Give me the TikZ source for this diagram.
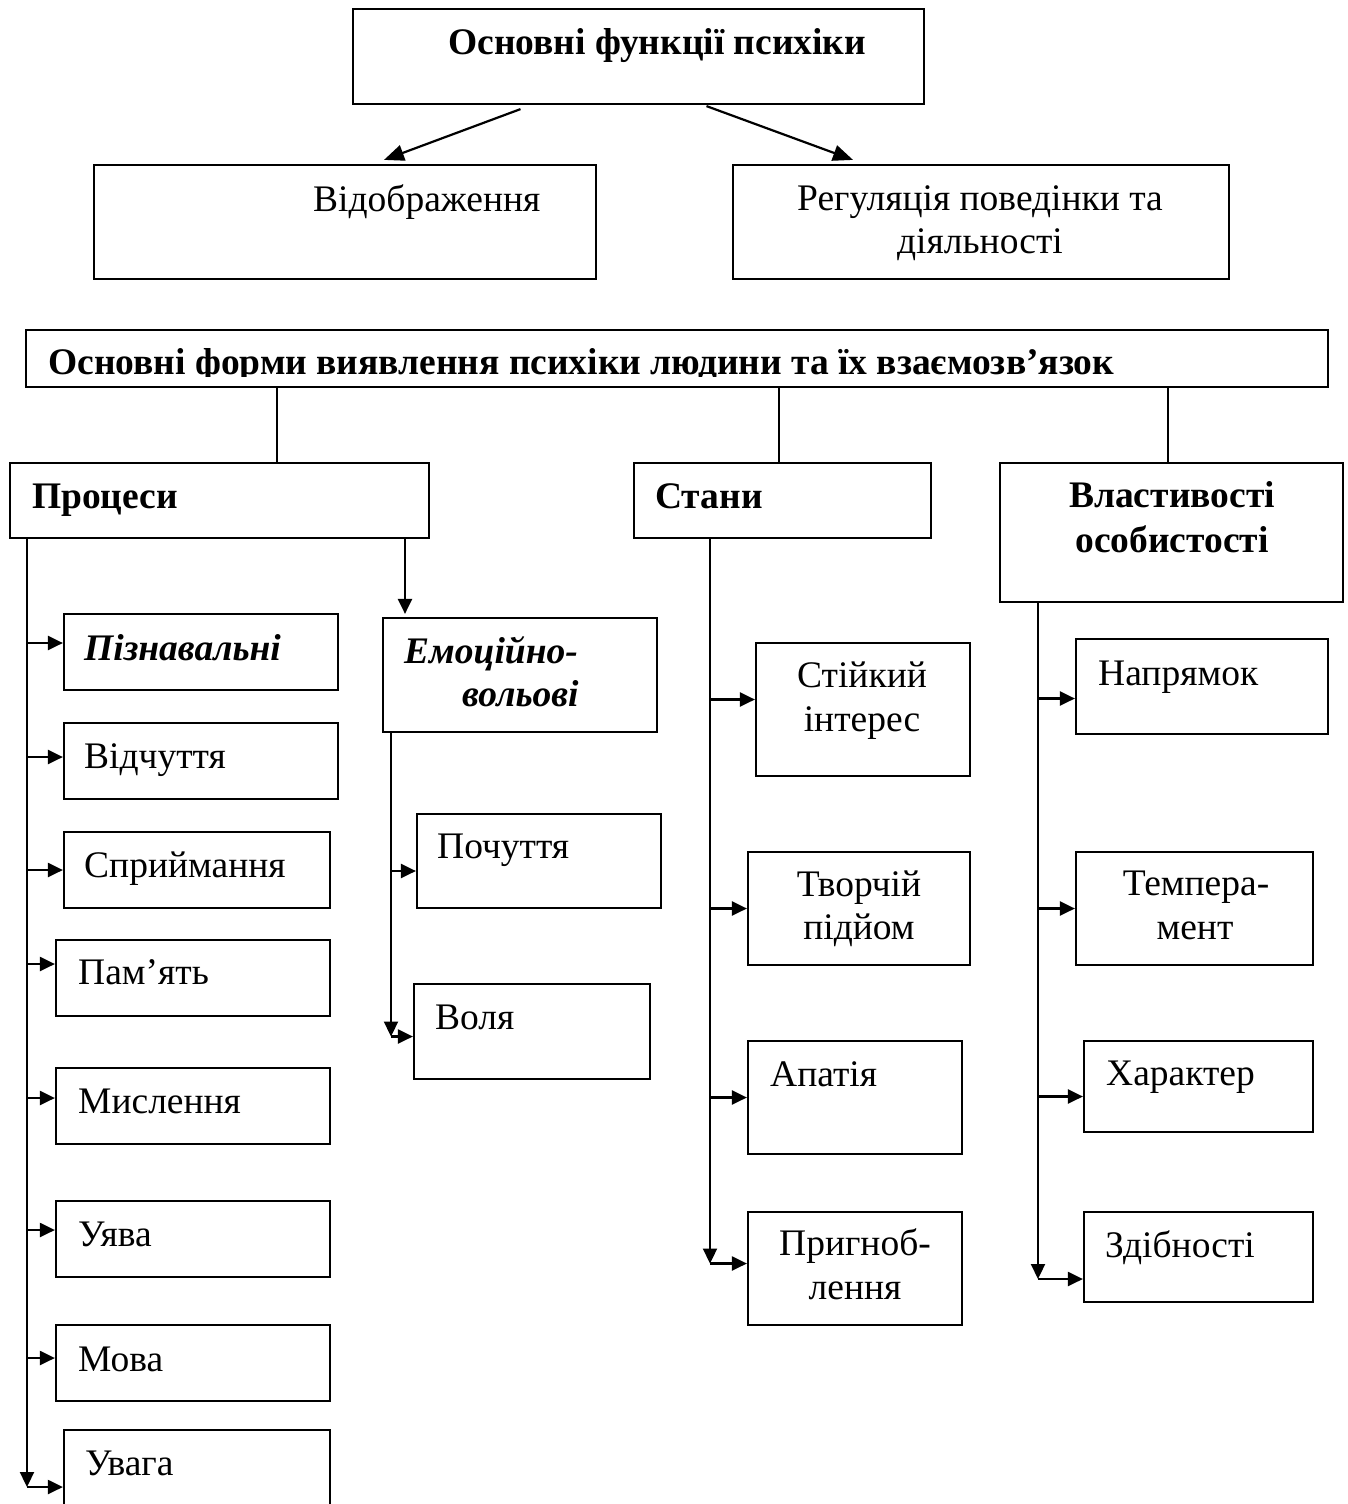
\documentclass[tikz,border=0pt]{standalone}
\usepackage{fontspec}
\setmainfont{Liberation Serif}
\usetikzlibrary{arrows.meta,fit}
\begin{document}
\begin{tikzpicture}[x=1pt,y=-1pt,
  box/.style={draw,line width=2.2pt,inner sep=0pt},
  tr/.style={inner sep=0pt,anchor=base west,font=\fontsize{37.5}{43}\selectfont},
  trc/.style={tr,anchor=base},
  tb/.style={inner sep=0pt,anchor=base west,font=\fontsize{37.5}{43}\selectfont\bfseries},
  tbc/.style={tb,anchor=base},
  tbi/.style={inner sep=0pt,anchor=base west,font=\fontsize{37.5}{43}\selectfont\bfseries\itshape},
  conn/.style={line width=2.2pt},
  arr/.style={conn,-{Triangle[length=15pt,width=14pt]}},
  bigarr/.style={conn,-{Triangle[length=20pt,width=16pt]}},
]
\clip (0,0) rectangle (1348,1504);
\fill[white] (0,0) rectangle (1348,1504);

% ---- top part
\node[box,fit={(353,9) (924,104)}] (top) {};
\node[tb] (t-top) at (448,55) {Основні функції психіки};
\node[box,fit={(94,165) (596,279)}] (disp) {};
\node[tr] (t-disp) at (313,211) {Відображення};
\node[box,fit={(733,165) (1229,279)}] (reg) {};
\node[trc] (t-reg1) at (980,210) {Регуляція поведінки та};
\node[trc] (t-reg2) at (980,253) {діяльності};
\draw[bigarr] ([shift={(-118,4)}]top.south) -- ([shift={(39,-4)}]disp.north);
\draw[bigarr] ([shift={(68,1)}]top.south) -- ([shift={(-128,-4)}]reg.north);

% ---- forms
\node[box,fit={(26,330) (1328,387)}] (forms) {};
\begin{scope}
\clip (26,330) rectangle (1328,376);
\node[tb] (t-forms) at (48,374) {Основні форми виявлення психіки людини та їх взаємозв’язок};
\end{scope}

\node[box,fit={(10,463) (429,538)}] (proc) {};
\node[tb] (t-proc) at (32,508) {Процеси};
\node[box,fit={(634,463) (931,538)}] (stan) {};
\node[tb] (t-stan) at (655,508) {Стани};
\node[box,fit={(1000,463) (1343,602)}] (vlas) {};
\node[tbc] (t-vlas1) at (1172,507) {Властивості};
\node[tbc] (t-vlas2) at (1172,552) {особистості};

\coordinate (c1) at (277,0);
\coordinate (c2) at (779,0);
\coordinate (c3) at (1168,0);
\draw[conn] (forms.south -| c1) -- (proc.north -| c1);
\draw[conn] (forms.south -| c2) -- (stan.north -| c2);
\draw[conn] (forms.south -| c3) -- (vlas.north -| c3);

% ---- processes column
\node[box,fit={(64,614) (338,690)}] (pizn) {};
\node[tbi] (t-pizn) at (84,660) {Пізнавальні};
\node[box,fit={(64,723) (338,799)}] (vidch) {};
\node[tr] (t-vidch) at (84,768) {Відчуття};
\node[box,fit={(64,832) (330,908)}] (spr) {};
\node[tr] (t-spr) at (84,877) {Сприймання};
\node[box,fit={(56,940) (330,1016)}] (pam) {};
\node[tr] (t-pam) at (78,984) {Пам’ять};
\node[box,fit={(56,1068) (330,1144)}] (mysl) {};
\node[tr] (t-mysl) at (78,1113) {Мислення};
\node[box,fit={(56,1201) (330,1277)}] (uyava) {};
\node[tr] (t-uyava) at (78,1246) {Уява};
\node[box,fit={(56,1325) (330,1401)}] (mova) {};
\node[tr] (t-mova) at (78,1371) {Мова};
\node[box,fit={(64,1430) (330,1544)}] (uvaga) {};
\node[tr] (t-uvaga) at (85,1475) {Увага};

\coordinate (sp1) at (27,0);
\draw[arr] (proc.south -| sp1) -- (uvaga.west -| sp1);
\draw[arr] ([yshift=9pt]pizn.west -| sp1) -- ([yshift=9pt]pizn.west);
\draw[arr] ([yshift=4pt]vidch.west -| sp1) -- ([yshift=4pt]vidch.west);
\draw[arr] (spr.west -| sp1) -- (spr.west);
\draw[arr] ([yshift=14pt]pam.west -| sp1) -- ([yshift=14pt]pam.west);
\draw[arr] ([yshift=8pt]mysl.west -| sp1) -- ([yshift=8pt]mysl.west);
\draw[arr] ([yshift=9pt]uyava.west -| sp1) -- ([yshift=9pt]uyava.west);
\draw[arr] ([yshift=5pt]mova.west -| sp1) -- ([yshift=5pt]mova.west);
\draw[arr] (uvaga.west -| sp1) -- (uvaga.west);

% ---- emotional-volitional
\node[box,fit={(383,618) (657,732)}] (emo) {};
\node[tbi] (t-emo1) at (404,663) {Емоційно-};
\node[tbi] (t-emo2) at (462,706) {вольові};
\coordinate (ea) at (405,0);
\draw[arr] (proc.south -| ea) -- ([yshift=3pt]emo.north -| ea);

\node[box,fit={(417,814) (661,908)}] (poch) {};
\node[tr] (t-poch) at (437,858) {Почуття};
\node[box,fit={(414,984) (650,1079)}] (vol) {};
\node[tr] (t-vol) at (435,1029) {Воля};
\coordinate (sp2) at (391,0);
\draw[arr] (emo.south -| sp2) -- ([yshift=-5pt]vol.west -| sp2);
\draw[arr] ([yshift=-10pt]poch.west -| sp2) -- ([yshift=-10pt]poch.west);
\draw[arr] ([yshift=-5pt]vol.west -| sp2) -- ([yshift=-5pt]vol.west);

% ---- states
\node[box,fit={(756,643) (970,776)}] (stiy) {};
\node[trc] (t-stiy1) at (862,687) {Стійкий};
\node[trc] (t-stiy2) at (862,731) {інтерес};
\node[box,fit={(748,852) (970,965)}] (tvor) {};
\node[trc] (t-tvor1) at (859,896) {Творчій};
\node[trc] (t-tvor2) at (859,939) {підйом};
\node[box,fit={(748,1041) (962,1154)}] (apat) {};
\node[tr] (t-apat) at (770,1086) {Апатія};
\node[box,fit={(748,1212) (962,1325)}] (pryh) {};
\node[trc] (t-pryh1) at (855,1255) {Пригноб-};
\node[trc] (t-pryh2) at (855,1299) {лення};
\coordinate (sp3) at (710,0);
\draw[arr] (stan.south -| sp3) -- ([yshift=5pt]pryh.west -| sp3);
\draw[arr] ([yshift=10pt]stiy.west -| sp3) -- ([yshift=10pt]stiy.west);
\draw[arr] (tvor.west -| sp3) -- (tvor.west);
\draw[arr] (apat.west -| sp3) -- (apat.west);
\draw[arr] ([yshift=5pt]pryh.west -| sp3) -- ([yshift=5pt]pryh.west);

% ---- personality traits
\node[box,fit={(1076,639) (1328,734)}] (napr) {};
\node[tr] (t-napr) at (1098,685) {Напрямок};
\node[box,fit={(1076,852) (1313,965)}] (temp) {};
\node[trc] (t-temp1) at (1196,895) {Темпера-};
\node[trc] (t-temp2) at (1195,939) {мент};
\node[box,fit={(1084,1041) (1313,1132)}] (khar) {};
\node[tr] (t-khar) at (1106,1085) {Характер};
\node[box,fit={(1084,1212) (1313,1302)}] (zdib) {};
\node[tr] (t-zdib) at (1105,1257) {Здібності};
\coordinate (sp4) at (1038,0);
\draw[arr] (vlas.south -| sp4) -- ([yshift=-22pt]zdib.west -| sp4);
\draw[arr] ([yshift=-12pt]napr.west -| sp4) -- ([yshift=-12pt]napr.west);
\draw[arr] (temp.west -| sp4) -- (temp.west);
\draw[arr] ([yshift=-10pt]khar.west -| sp4) -- ([yshift=-10pt]khar.west);
\draw[arr] ([yshift=-22pt]zdib.west -| sp4) -- ([yshift=-22pt]zdib.west);
\end{tikzpicture}
\end{document}
